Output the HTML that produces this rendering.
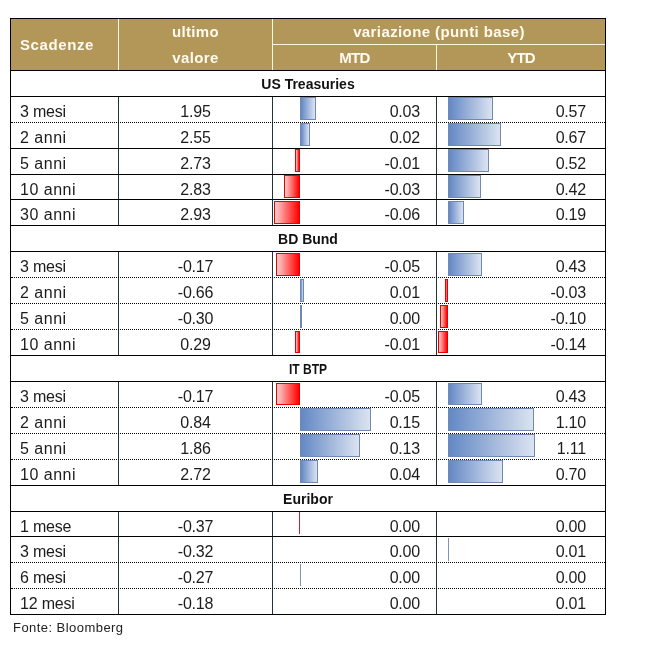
<!DOCTYPE html>
<html><head><meta charset="utf-8"><title>Scadenze</title><style>
html,body{margin:0;padding:0;background:#fff;}
body{width:645px;height:646px;position:relative;overflow:hidden;font-family:"Liberation Sans", sans-serif;color:#1c1c1c;}
.a{position:absolute;}
.t{position:absolute;white-space:nowrap;line-height:20px;height:20px;}
.h{color:#fffbee;font-weight:bold;font-size:15px;}
.s{font-weight:bold;font-size:14px;color:#111;text-align:center;}
.b{font-size:16px;letter-spacing:-0.2px;}
.hl{position:absolute;left:11px;width:594px;height:1px;background:#000;}
.dl{position:absolute;left:11px;width:594px;height:0;border-top:1px dotted #000;}
.vl{position:absolute;width:1px;background:#24323a;}
.bb{position:absolute;box-sizing:border-box;border:1px solid #7089b2;background:linear-gradient(to right,#6388c5,#dbe3f1);}
.br{position:absolute;box-sizing:border-box;border:1px solid #e60000;background:linear-gradient(to right,#ffd0d0,#ff0000);}
</style></head><body>
<div class="a" style="left:10px;top:18px;width:596px;height:53px;background:#000;"></div>
<div class="a" style="left:11px;top:19px;width:594px;height:51px;background:#B39759;"></div>
<div class="a" style="left:118px;top:19px;width:1px;height:51px;background:#fff8dc;"></div>
<div class="a" style="left:272px;top:19px;width:1px;height:51px;background:#fff8dc;"></div>
<div class="a" style="left:273px;top:44px;width:332px;height:1px;background:#fff8dc;"></div>
<div class="a" style="left:436px;top:45px;width:1px;height:25px;background:#fff8dc;"></div>
<div class="t h" style="left:20px;top:35px;letter-spacing:0.6px;">Scadenze</div>
<div class="t h" style="left:119px;width:153px;top:22px;text-align:center;letter-spacing:0.3px;">ultimo</div>
<div class="t h" style="left:119px;width:153px;top:48px;text-align:center;letter-spacing:0.4px;">valore</div>
<div class="t h" style="left:273px;width:332px;top:22px;text-align:center;letter-spacing:0.4px;">variazione (punti base)</div>
<div class="t h" style="left:273px;width:163px;top:48px;text-align:center;letter-spacing:-0.6px;">MTD</div>
<div class="t h" style="left:437px;width:168px;top:48px;text-align:center;letter-spacing:-0.8px;">YTD</div>
<div class="a" style="left:10px;top:70px;width:1px;height:545px;background:#000;"></div>
<div class="a" style="left:605px;top:70px;width:1px;height:545px;background:#000;"></div>
<div class="t s" style="left:11px;width:594px;top:74px;">US Treasuries</div>
<div class="vl" style="left:118px;top:97px;height:26px;"></div>
<div class="vl" style="left:272px;top:97px;height:26px;"></div>
<div class="vl" style="left:436px;top:97px;height:26px;"></div>
<div class="bb" style="left:300px;top:97px;width:16px;height:23px;"></div>
<div class="bb" style="left:448px;top:97px;width:45px;height:23px;"></div>
<div class="t b" style="left:20px;top:102px;">3 mesi</div>
<div class="t b" style="left:119px;width:153px;text-align:center;top:102px;">1.95</div>
<div class="t b" style="right:225px;top:102px;">0.03</div>
<div class="t b" style="right:59px;top:102px;">0.57</div>
<div class="vl" style="left:118px;top:123px;height:26px;"></div>
<div class="vl" style="left:272px;top:123px;height:26px;"></div>
<div class="vl" style="left:436px;top:123px;height:26px;"></div>
<div class="bb" style="left:300px;top:123px;width:10px;height:23px;"></div>
<div class="bb" style="left:448px;top:123px;width:52.5px;height:23px;"></div>
<div class="t b" style="left:20px;top:128px; letter-spacing:0.5px;">2 anni</div>
<div class="t b" style="left:119px;width:153px;text-align:center;top:128px;">2.55</div>
<div class="t b" style="right:225px;top:128px;">0.02</div>
<div class="t b" style="right:59px;top:128px;">0.67</div>
<div class="vl" style="left:118px;top:149px;height:26px;"></div>
<div class="vl" style="left:272px;top:149px;height:26px;"></div>
<div class="vl" style="left:436px;top:149px;height:26px;"></div>
<div class="br" style="left:295px;top:149px;width:5px;height:23px;"></div>
<div class="bb" style="left:448px;top:149px;width:41px;height:23px;"></div>
<div class="t b" style="left:20px;top:154px; letter-spacing:0.5px;">5 anni</div>
<div class="t b" style="left:119px;width:153px;text-align:center;top:154px;">2.73</div>
<div class="t b" style="right:225px;top:154px;">-0.01</div>
<div class="t b" style="right:59px;top:154px;">0.52</div>
<div class="vl" style="left:118px;top:175px;height:25px;"></div>
<div class="vl" style="left:272px;top:175px;height:25px;"></div>
<div class="vl" style="left:436px;top:175px;height:25px;"></div>
<div class="br" style="left:284px;top:175px;width:16px;height:23px;"></div>
<div class="bb" style="left:448px;top:175px;width:33px;height:23px;"></div>
<div class="t b" style="left:20px;top:180px; letter-spacing:0.5px;">10 anni</div>
<div class="t b" style="left:119px;width:153px;text-align:center;top:180px;">2.83</div>
<div class="t b" style="right:225px;top:180px;">-0.03</div>
<div class="t b" style="right:59px;top:180px;">0.42</div>
<div class="vl" style="left:118px;top:200px;height:26px;"></div>
<div class="vl" style="left:272px;top:200px;height:26px;"></div>
<div class="vl" style="left:436px;top:200px;height:26px;"></div>
<div class="br" style="left:274px;top:201px;width:26px;height:23px;"></div>
<div class="bb" style="left:448px;top:201px;width:16px;height:23px;"></div>
<div class="t b" style="left:20px;top:205px; letter-spacing:0.5px;">30 anni</div>
<div class="t b" style="left:119px;width:153px;text-align:center;top:205px;">2.93</div>
<div class="t b" style="right:225px;top:205px;">-0.06</div>
<div class="t b" style="right:59px;top:205px;">0.19</div>
<div class="t s" style="left:11px;width:594px;top:229px;">BD Bund</div>
<div class="vl" style="left:118px;top:252px;height:26px;"></div>
<div class="vl" style="left:272px;top:252px;height:26px;"></div>
<div class="vl" style="left:436px;top:252px;height:26px;"></div>
<div class="br" style="left:276px;top:253px;width:24px;height:23px;"></div>
<div class="bb" style="left:448px;top:253px;width:34px;height:23px;"></div>
<div class="t b" style="left:20px;top:257px;">3 mesi</div>
<div class="t b" style="left:119px;width:153px;text-align:center;top:257px;">-0.17</div>
<div class="t b" style="right:225px;top:257px;">-0.05</div>
<div class="t b" style="right:59px;top:257px;">0.43</div>
<div class="vl" style="left:118px;top:278px;height:26px;"></div>
<div class="vl" style="left:272px;top:278px;height:26px;"></div>
<div class="vl" style="left:436px;top:278px;height:26px;"></div>
<div class="bb" style="left:300px;top:279px;width:4px;height:23px;"></div>
<div class="br" style="left:445px;top:279px;width:3px;height:23px;"></div>
<div class="t b" style="left:20px;top:283px; letter-spacing:0.5px;">2 anni</div>
<div class="t b" style="left:119px;width:153px;text-align:center;top:283px;">-0.66</div>
<div class="t b" style="right:225px;top:283px;">0.01</div>
<div class="t b" style="right:59px;top:283px;">-0.03</div>
<div class="vl" style="left:118px;top:304px;height:26px;"></div>
<div class="vl" style="left:272px;top:304px;height:26px;"></div>
<div class="vl" style="left:436px;top:304px;height:26px;"></div>
<div class="bb" style="left:300px;top:305px;width:2px;height:23px;"></div>
<div class="br" style="left:440px;top:305px;width:8px;height:23px;"></div>
<div class="t b" style="left:20px;top:309px; letter-spacing:0.5px;">5 anni</div>
<div class="t b" style="left:119px;width:153px;text-align:center;top:309px;">-0.30</div>
<div class="t b" style="right:225px;top:309px;">0.00</div>
<div class="t b" style="right:59px;top:309px;">-0.10</div>
<div class="vl" style="left:118px;top:330px;height:26px;"></div>
<div class="vl" style="left:272px;top:330px;height:26px;"></div>
<div class="vl" style="left:436px;top:330px;height:26px;"></div>
<div class="br" style="left:295px;top:331px;width:5px;height:22px;"></div>
<div class="br" style="left:438px;top:331px;width:10px;height:22px;"></div>
<div class="t b" style="left:20px;top:335px; letter-spacing:0.5px;">10 anni</div>
<div class="t b" style="left:119px;width:153px;text-align:center;top:335px;">0.29</div>
<div class="t b" style="right:225px;top:335px;">-0.01</div>
<div class="t b" style="right:59px;top:335px;">-0.14</div>
<div class="t s" style="left:11px;width:594px;top:359px;transform:scaleX(0.86);">IT BTP</div>
<div class="vl" style="left:118px;top:382px;height:26px;"></div>
<div class="vl" style="left:272px;top:382px;height:26px;"></div>
<div class="vl" style="left:436px;top:382px;height:26px;"></div>
<div class="br" style="left:276px;top:383px;width:24px;height:22px;"></div>
<div class="bb" style="left:448px;top:383px;width:34px;height:22px;"></div>
<div class="t b" style="left:20px;top:387px;">3 mesi</div>
<div class="t b" style="left:119px;width:153px;text-align:center;top:387px;">-0.17</div>
<div class="t b" style="right:225px;top:387px;">-0.05</div>
<div class="t b" style="right:59px;top:387px;">0.43</div>
<div class="vl" style="left:118px;top:408px;height:26px;"></div>
<div class="vl" style="left:272px;top:408px;height:26px;"></div>
<div class="vl" style="left:436px;top:408px;height:26px;"></div>
<div class="bb" style="left:300px;top:408px;width:71px;height:23px;"></div>
<div class="bb" style="left:448px;top:408px;width:86px;height:23px;"></div>
<div class="t b" style="left:20px;top:413px; letter-spacing:0.5px;">2 anni</div>
<div class="t b" style="left:119px;width:153px;text-align:center;top:413px;">0.84</div>
<div class="t b" style="right:225px;top:413px;">0.15</div>
<div class="t b" style="right:59px;top:413px;">1.10</div>
<div class="vl" style="left:118px;top:434px;height:26px;"></div>
<div class="vl" style="left:272px;top:434px;height:26px;"></div>
<div class="vl" style="left:436px;top:434px;height:26px;"></div>
<div class="bb" style="left:300px;top:434px;width:60px;height:23px;"></div>
<div class="bb" style="left:448px;top:434px;width:87px;height:23px;"></div>
<div class="t b" style="left:20px;top:439px; letter-spacing:0.5px;">5 anni</div>
<div class="t b" style="left:119px;width:153px;text-align:center;top:439px;">1.86</div>
<div class="t b" style="right:225px;top:439px;">0.13</div>
<div class="t b" style="right:59px;top:439px;">1.11</div>
<div class="vl" style="left:118px;top:460px;height:26px;"></div>
<div class="vl" style="left:272px;top:460px;height:26px;"></div>
<div class="vl" style="left:436px;top:460px;height:26px;"></div>
<div class="bb" style="left:300px;top:460px;width:18px;height:23px;"></div>
<div class="bb" style="left:448px;top:460px;width:55px;height:23px;"></div>
<div class="t b" style="left:20px;top:465px; letter-spacing:0.5px;">10 anni</div>
<div class="t b" style="left:119px;width:153px;text-align:center;top:465px;">2.72</div>
<div class="t b" style="right:225px;top:465px;">0.04</div>
<div class="t b" style="right:59px;top:465px;">0.70</div>
<div class="t s" style="left:11px;width:594px;top:489px;">Euribor</div>
<div class="vl" style="left:118px;top:512px;height:25px;"></div>
<div class="vl" style="left:272px;top:512px;height:25px;"></div>
<div class="vl" style="left:436px;top:512px;height:25px;"></div>
<div class="a" style="left:299px;top:512px;width:1px;height:22px;background:#c0203a;"></div>
<div class="t b" style="left:20px;top:517px;">1 mese</div>
<div class="t b" style="left:119px;width:153px;text-align:center;top:517px;">-0.37</div>
<div class="t b" style="right:225px;top:517px;">0.00</div>
<div class="t b" style="right:59px;top:517px;">0.00</div>
<div class="vl" style="left:118px;top:537px;height:26px;"></div>
<div class="vl" style="left:272px;top:537px;height:26px;"></div>
<div class="vl" style="left:436px;top:537px;height:26px;"></div>
<div class="a" style="left:448px;top:538px;width:1px;height:23px;background:#7d93b8;"></div>
<div class="t b" style="left:20px;top:542px;">3 mesi</div>
<div class="t b" style="left:119px;width:153px;text-align:center;top:542px;">-0.32</div>
<div class="t b" style="right:225px;top:542px;">0.00</div>
<div class="t b" style="right:59px;top:542px;">0.01</div>
<div class="vl" style="left:118px;top:563px;height:26px;"></div>
<div class="vl" style="left:272px;top:563px;height:26px;"></div>
<div class="vl" style="left:436px;top:563px;height:26px;"></div>
<div class="a" style="left:300px;top:564px;width:1px;height:22px;background:#7d93b8;"></div>
<div class="t b" style="left:20px;top:568px;">6 mesi</div>
<div class="t b" style="left:119px;width:153px;text-align:center;top:568px;">-0.27</div>
<div class="t b" style="right:225px;top:568px;">0.00</div>
<div class="t b" style="right:59px;top:568px;">0.00</div>
<div class="vl" style="left:118px;top:589px;height:26px;"></div>
<div class="vl" style="left:272px;top:589px;height:26px;"></div>
<div class="vl" style="left:436px;top:589px;height:26px;"></div>
<div class="t b" style="left:20px;top:594px;">12 mesi</div>
<div class="t b" style="left:119px;width:153px;text-align:center;top:594px;">-0.18</div>
<div class="t b" style="right:225px;top:594px;">0.00</div>
<div class="t b" style="right:59px;top:594px;">0.01</div>
<div class="hl" style="top:96px;"></div>
<div class="dl" style="top:122px;"></div>
<div class="hl" style="top:148px;"></div>
<div class="hl" style="top:174px;"></div>
<div class="hl" style="top:199px;"></div>
<div class="hl" style="top:225px;"></div>
<div class="hl" style="top:251px;"></div>
<div class="dl" style="top:277px;"></div>
<div class="dl" style="top:303px;"></div>
<div class="dl" style="top:329px;"></div>
<div class="hl" style="top:355px;"></div>
<div class="hl" style="top:381px;"></div>
<div class="dl" style="top:407px;"></div>
<div class="dl" style="top:433px;"></div>
<div class="dl" style="top:459px;"></div>
<div class="hl" style="top:485px;"></div>
<div class="hl" style="top:511px;"></div>
<div class="hl" style="top:536px;"></div>
<div class="dl" style="top:562px;"></div>
<div class="dl" style="top:588px;"></div>
<div class="hl" style="top:614px;"></div>
<div class="t" style="left:13px;top:618px;font-size:13px;letter-spacing:0.45px;color:#222;">Fonte: Bloomberg</div>
</body></html>
